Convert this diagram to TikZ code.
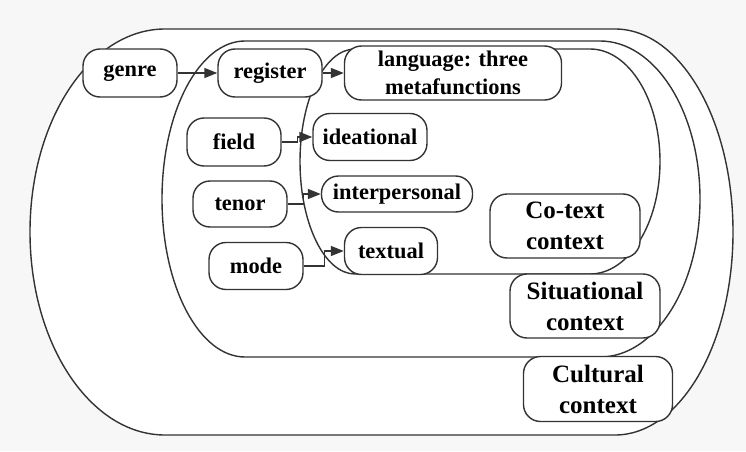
\documentclass[tikz,border=0pt]{standalone}
\usepackage{fontspec}
\setmainfont{Liberation Serif}
\usetikzlibrary{arrows.meta, positioning}
\tikzstyle{arrow} = [line width=1.4pt, draw=black!80, -{Triangle[length=13pt, width=10pt]}]
\tikzset{every node/.style={align=center}}

\begin{document}
\begin{tikzpicture}[x=1pt, y=1pt,
    box/.style={rectangle, rounded corners=17pt, draw=black!80, line width=1.4pt,
                fill=white, minimum height=48pt, inner sep=2pt,
                font=\bfseries\fontsize{22.4}{28}\selectfont},
    ctx/.style={box, minimum width=150pt, minimum height=64pt,
                font=\bfseries\fontsize{25}{31}\selectfont},
    layer/.style={draw=black!80, line width=1.4pt, fill=white}
]
  \fill[black!3] (0,0) rectangle (746,451);
  \useasboundingbox (0,0) rectangle (746,451);

  % --- nested contexts ---
  \draw[layer] (165,422) -- (615,422)
    arc[start angle=90, end angle=-90, x radius=118, y radius=203] -- (165,16)
    arc[start angle=270, end angle=90, x radius=135, y radius=203] -- cycle;
  \draw[layer] (245,410) -- (600,410)
    arc[start angle=90, end angle=-90, x radius=100, y radius=158] -- (245,94)
    arc[start angle=270, end angle=90, x radius=83, y radius=158] -- cycle;
  \draw[layer] (355,402) -- (590,402)
    arc[start angle=90, end angle=-90, x radius=70, y radius=112.5] -- (355,177)
    arc[start angle=270, end angle=90, x radius=55, y radius=112.5] -- cycle;

  % --- top row ---
  \node[box, minimum width=94pt]  (genre)    at (130,378) {genre};
  \node[box, minimum width=104pt] (register) at (270,378) {register};
  \node[box, minimum width=217pt, minimum height=54pt] (lang) at (453,378)
        {language: three\\metafunctions};
  \draw[arrow] (genre) -- (register);
  \draw[arrow] (register) -- (lang);

  % --- register variables and metafunctions ---
  \node[box, minimum width=94pt]  (field) at (234,309) {field};
  \node[box, minimum width=94pt, minimum height=46pt] (tenor) at (240,247) {tenor};
  \node[box, minimum width=94pt, minimum height=47pt] (mode)  at (256,185) {mode};
  \node[box, minimum width=114pt, minimum height=47pt] (ideational) at (370,314) {ideational};
  \node[box, minimum width=151pt, minimum height=36pt] (interpersonal) at (397,257) {interpersonal};
  \node[box, minimum width=93pt, minimum height=47pt] (textual) at (391,200) {textual};
  \draw[arrow] (field.east) -- ++(16,0) |- (ideational.west);
  \draw[arrow] (tenor.east) -- ++(16,0) |- (interpersonal.west);
  \draw[arrow] (mode.east)  -- ++(21,0) |- (textual.west);

  % --- context labels ---
  \node[ctx] (cotext)      at (565,225) {Co-text\\context};
  \node[ctx] (situational) at (585,145) {Situational\\context};
  \node[ctx, minimum width=149pt, minimum height=65pt] (cultural) at (598,62) {Cultural\\context};
\end{tikzpicture}
\end{document}
